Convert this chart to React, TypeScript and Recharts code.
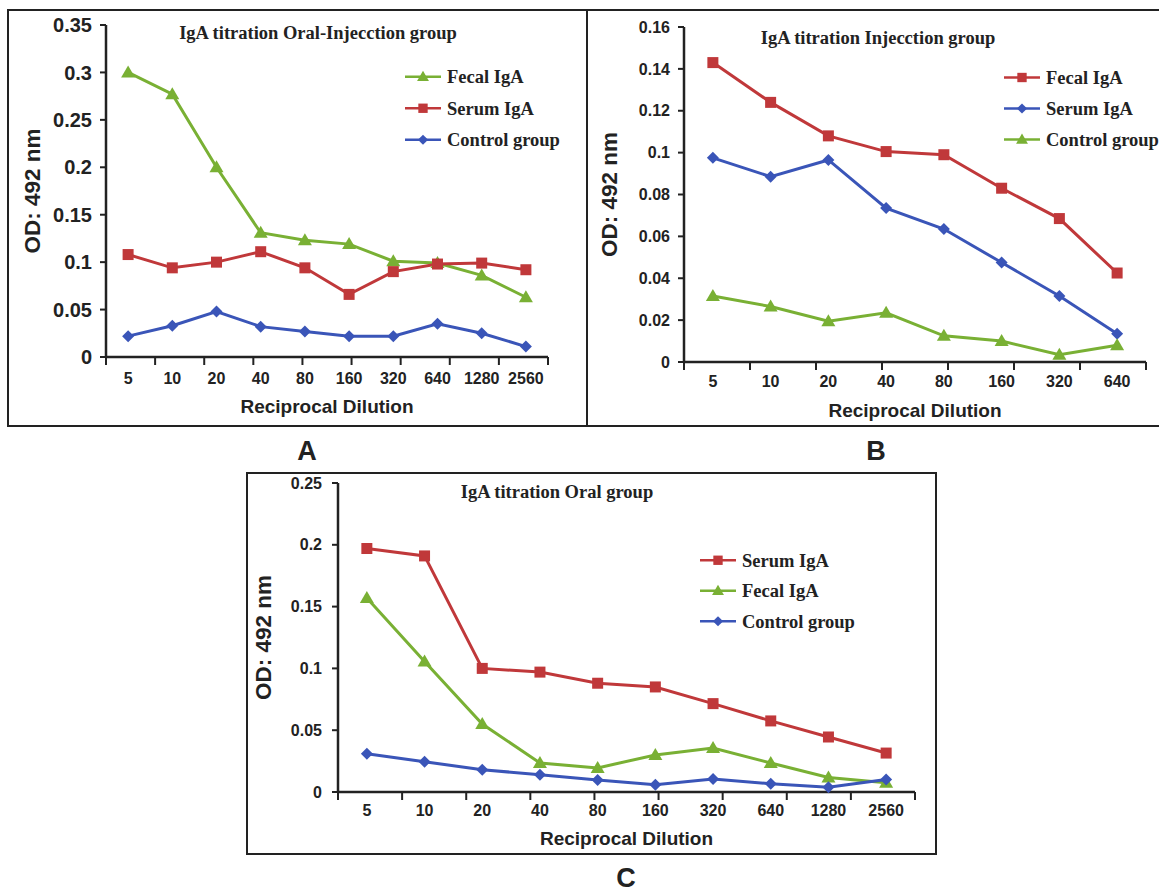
import React from "react";
import { LineChart, Line, XAxis, YAxis, Legend, Label } from "recharts";

// tick labels
const dilutionsLong = ["5", "10", "20", "40", "80", "160", "320", "640", "1280", "2560"];
const dilutionsShort = ["5", "10", "20", "40", "80", "160", "320", "640"];

// A: oral-injection group
const oralInjFecal = [0.3, 0.277, 0.2, 0.131, 0.123, 0.119, 0.101, 0.099, 0.086, 0.063];
const oralInjSerum = [0.108, 0.094, 0.1, 0.111, 0.094, 0.066, 0.09, 0.098, 0.099, 0.092];
const oralInjControl = [0.022, 0.033, 0.048, 0.032, 0.027, 0.022, 0.022, 0.035, 0.025, 0.011];
const yTicksA = [0, 0.05, 0.1, 0.15, 0.2, 0.25, 0.3, 0.35];

// B: injection group
const injFecal = [0.143, 0.124, 0.108, 0.1005, 0.099, 0.083, 0.0685, 0.0425];
const injSerum = [0.0975, 0.0885, 0.0965, 0.0735, 0.0635, 0.0475, 0.0315, 0.0135];
const injControl = [0.0315, 0.0265, 0.0195, 0.0235, 0.0125, 0.01, 0.0035, 0.008];
const yTicksB = [0, 0.02, 0.04, 0.06, 0.08, 0.1, 0.12, 0.14, 0.16];

// C: oral group
const oralSerum = [0.197, 0.191, 0.1, 0.097, 0.088, 0.085, 0.0715, 0.0575, 0.0445, 0.0315];
const oralFecal = [0.157, 0.1055, 0.055, 0.0235, 0.0195, 0.03, 0.0355, 0.0235, 0.0118, 0.0075];
const oralControl = [0.031, 0.0245, 0.018, 0.014, 0.0098, 0.0058, 0.0105, 0.0066, 0.0038, 0.0102];
const yTicksC = [0, 0.05, 0.1, 0.15, 0.2, 0.25];

const GREEN = "#79b034";
const RED = "#c0383a";
const BLUE = "#3a55b8";
const INK = "#222";
const SANS = "'Liberation Sans', Arial, sans-serif";
const SERIF = "'Liberation Serif', 'Times New Roman', serif";

type Shape = "square" | "triangle" | "diamond";
type Series = { name: string; values: number[]; color: string; shape: Shape };

const Marker = ({ cx, cy, color, shape, scale = 1 }: { cx: number; cy: number; color: string; shape: Shape; scale?: number }) => {
  if (cx == null || cy == null) return null;
  if (shape === "square") {
    const h = 5.5 * scale;
    return <rect x={cx - h} y={cy - h} width={2 * h} height={2 * h} fill={color} />;
  }
  if (shape === "triangle") {
    return (
      <polygon
        points={`${cx},${cy - 7 * scale} ${cx + 7 * scale},${cy + 5 * scale} ${cx - 7 * scale},${cy + 5 * scale}`}
        fill={color}
      />
    );
  }
  const d = 6 * scale;
  return <polygon points={`${cx},${cy - d} ${cx + d},${cy} ${cx},${cy + d} ${cx - d},${cy}`} fill={color} />;
};

const LegendBox = ({ series, gap, textX }: { series: Series[]; gap: number; textX: number }) => (
  <svg width={textX + 120} height={gap * series.length} style={{ overflow: "visible" }}>
    {series.map((s, i) => {
      const cy = gap * i + gap / 2;
      return (
        <g key={s.name}>
          <line x1={0} x2={36} y1={cy} y2={cy} stroke={s.color} strokeWidth={2.5} />
          <Marker cx={18} cy={cy} color={s.color} shape={s.shape} scale={0.85} />
          <text
            x={textX}
            y={cy}
            dy="0.35em"
            fontFamily={SERIF}
            fontWeight="bold"
            fontSize={18.5}
            fill={INK}
          >
            {s.name}
          </text>
        </g>
      );
    })}
  </svg>
);

type PanelProps = {
  box: { left: number; top: number; width: number; height: number; noRight?: boolean };
  plot: { left: number; top: number; right: number; bottom: number };
  categories: string[];
  series: Series[];
  yTicks: number[];
  yTickFont: number;
  yTickMargin: number;
  xTickGap: number;
  yLabelX: number;
  xLabelBaseline: number;
  title: string;
  titlePos: { x: number; y: number };
  legendPos: { x: number; y: number; gap: number; textX: number };
  letter: string;
  letterPos: { x: number; y: number };
};

const Panel = (p: PanelProps) => {
  const { box, plot } = p;
  const n = p.categories.length;
  const data = p.categories.map((c, i) => {
    const row: Record<string, number | string> = { dilution: c };
    p.series.forEach((s, k) => {
      row["s" + k] = s.values[i];
    });
    return row;
  });
  // band edges, where the reference puts its x tick marks
  const edges = Array.from({ length: n + 1 }, (_, i) => i);
  const yWidth = plot.left - box.left;
  // two thin x axes (1px each) sit on the plot bottom; their text hangs below
  const xAxesHeight = 2;
  const bottomMargin = box.top + box.height - plot.bottom - xAxesHeight;
  return (
    <>
      <div
        style={{
          position: "absolute",
          left: box.left,
          top: box.top,
          width: box.width,
          height: box.height,
          boxSizing: "border-box",
          border: `2.5px solid ${INK}`,
          borderRight: box.noRight ? "none" : `2.5px solid ${INK}`,
        }}
      />
      <div style={{ position: "absolute", left: box.left, top: box.top }}>
        <LineChart
          width={box.width}
          height={box.height}
          data={data}
          margin={{
            top: plot.top - box.top,
            right: box.left + box.width - plot.right,
            left: 0,
            bottom: bottomMargin,
          }}
        >
          <XAxis
            xAxisId="edges"
            type="number"
            domain={[0, n]}
            allowDataOverflow
            ticks={edges}
            interval={0}
            height={1}
            axisLine={{ stroke: INK, strokeWidth: 2.5 }}
            tick={{ fontSize: 1, fill: "none" }}
            tickFormatter={() => ""}
            tickLine={{ stroke: INK, strokeWidth: 2 }}
            tickSize={8}
          />
          <XAxis
            xAxisId="labels"
            dataKey="dilution"
            scale="band"
            interval={0}
            height={1}
            axisLine={false}
            tickLine={false}
            tickSize={0}
            tickMargin={p.xTickGap}
            tick={{ fontFamily: SANS, fontWeight: "bold", fontSize: 16, fill: INK }}
          >
            <Label
              value="Reciprocal Dilution"
              position="insideBottom"
              offset={plot.bottom + 1 - p.xLabelBaseline}
              style={{ fontFamily: SANS, fontWeight: "bold", fontSize: 19, fill: INK }}
            />
          </XAxis>
          <YAxis
            width={yWidth}
            type="number"
            domain={[0, p.yTicks[p.yTicks.length - 1]]}
            ticks={p.yTicks}
            interval={0}
            axisLine={{ stroke: INK, strokeWidth: 2.5 }}
            tickLine={{ stroke: INK, strokeWidth: 2 }}
            tickSize={6}
            tickMargin={p.yTickMargin}
            tick={{ fontFamily: SANS, fontWeight: "bold", fontSize: p.yTickFont, fill: INK }}
          >
            <Label
              value="OD: 492 nm"
              angle={-90}
              position="insideLeft"
              offset={p.yLabelX - box.left}
              style={{ textAnchor: "middle", fontFamily: SANS, fontWeight: "bold", fontSize: 22.5, fill: INK }}
            />
          </YAxis>
          <Legend
            layout="vertical"
            align="center"
            verticalAlign="middle"
            wrapperStyle={{
              left: p.legendPos.x - box.left,
              top: p.legendPos.y - box.top - p.legendPos.gap / 2,
              width: "auto",
            }}
            content={() => (
              <LegendBox series={p.series} gap={p.legendPos.gap} textX={p.legendPos.textX} />
            )}
          />
          {p.series.map((s, k) => (
            <Line
              key={s.name}
              xAxisId="labels"
              name={s.name}
              dataKey={"s" + k}
              type="linear"
              stroke={s.color}
              strokeWidth={3}
              dot={(d: any) => (
                <Marker key={`${k}-${d.index}`} cx={d.cx} cy={d.cy} color={s.color} shape={s.shape} />
              )}
              activeDot={false}
              isAnimationActive={false}
            />
          ))}
        </LineChart>
      </div>
      <div
        style={{
          position: "absolute",
          left: p.titlePos.x,
          top: p.titlePos.y,
          transform: "translate(-50%, -50%)",
          whiteSpace: "nowrap",
          fontFamily: SERIF,
          fontWeight: "bold",
          fontSize: 18.5,
          color: INK,
        }}
      >
        {p.title}
      </div>
      <div
        style={{
          position: "absolute",
          left: p.letterPos.x,
          top: p.letterPos.y,
          transform: "translate(-50%, -50%)",
          fontFamily: SANS,
          fontWeight: "bold",
          fontSize: 27,
          color: INK,
        }}
      >
        {p.letter}
      </div>
    </>
  );
};

export default function App() {
  return (
    <div
      style={{
        position: "absolute",
        left: 0,
        top: 0,
        width: 1159,
        height: 893,
        overflow: "hidden",
        background: "#fff",
      }}
    >
      <Panel
        box={{ left: 7, top: 9, width: 581, height: 418 }}
        plot={{ left: 106, top: 25, right: 548, bottom: 357 }}
        categories={dilutionsLong}
        series={[
          { name: "Fecal IgA", values: oralInjFecal, color: GREEN, shape: "triangle" },
          { name: "Serum IgA", values: oralInjSerum, color: RED, shape: "square" },
          { name: "Control group", values: oralInjControl, color: BLUE, shape: "diamond" },
        ]}
        yTicks={yTicksA}
        yTickFont={20}
        yTickMargin={8}
        xTickGap={15}
        yLabelX={32}
        xLabelBaseline={412}
        title="IgA titration Oral-Injecction group"
        titlePos={{ x: 318, y: 33 }}
        legendPos={{ x: 405, y: 77, gap: 31.5, textX: 42 }}
        letter="A"
        letterPos={{ x: 307, y: 451 }}
      />
      <Panel
        box={{ left: 586, top: 9, width: 573, height: 418, noRight: true }}
        plot={{ left: 684, top: 27, right: 1146, bottom: 362 }}
        categories={dilutionsShort}
        series={[
          { name: "Fecal IgA", values: injFecal, color: RED, shape: "square" },
          { name: "Serum IgA", values: injSerum, color: BLUE, shape: "diamond" },
          { name: "Control group", values: injControl, color: GREEN, shape: "triangle" },
        ]}
        yTicks={yTicksB}
        yTickFont={16}
        yTickMargin={8}
        xTickGap={13}
        yLabelX={609}
        xLabelBaseline={416}
        title="IgA titration Injecction group"
        titlePos={{ x: 878, y: 38 }}
        legendPos={{ x: 1004, y: 77, gap: 31, textX: 42 }}
        letter="B"
        letterPos={{ x: 876, y: 451 }}
      />
      <Panel
        box={{ left: 246, top: 472, width: 691, height: 383 }}
        plot={{ left: 338, top: 483, right: 915, bottom: 792 }}
        categories={dilutionsLong}
        series={[
          { name: "Serum IgA", values: oralSerum, color: RED, shape: "square" },
          { name: "Fecal IgA", values: oralFecal, color: GREEN, shape: "triangle" },
          { name: "Control group", values: oralControl, color: BLUE, shape: "diamond" },
        ]}
        yTicks={yTicksC}
        yTickFont={16}
        yTickMargin={10}
        xTickGap={12}
        yLabelX={263}
        xLabelBaseline={844}
        title="IgA titration Oral group"
        titlePos={{ x: 557, y: 492 }}
        legendPos={{ x: 700, y: 560, gap: 30.5, textX: 42 }}
        letter="C"
        letterPos={{ x: 626, y: 878 }}
      />
    </div>
  );
}
